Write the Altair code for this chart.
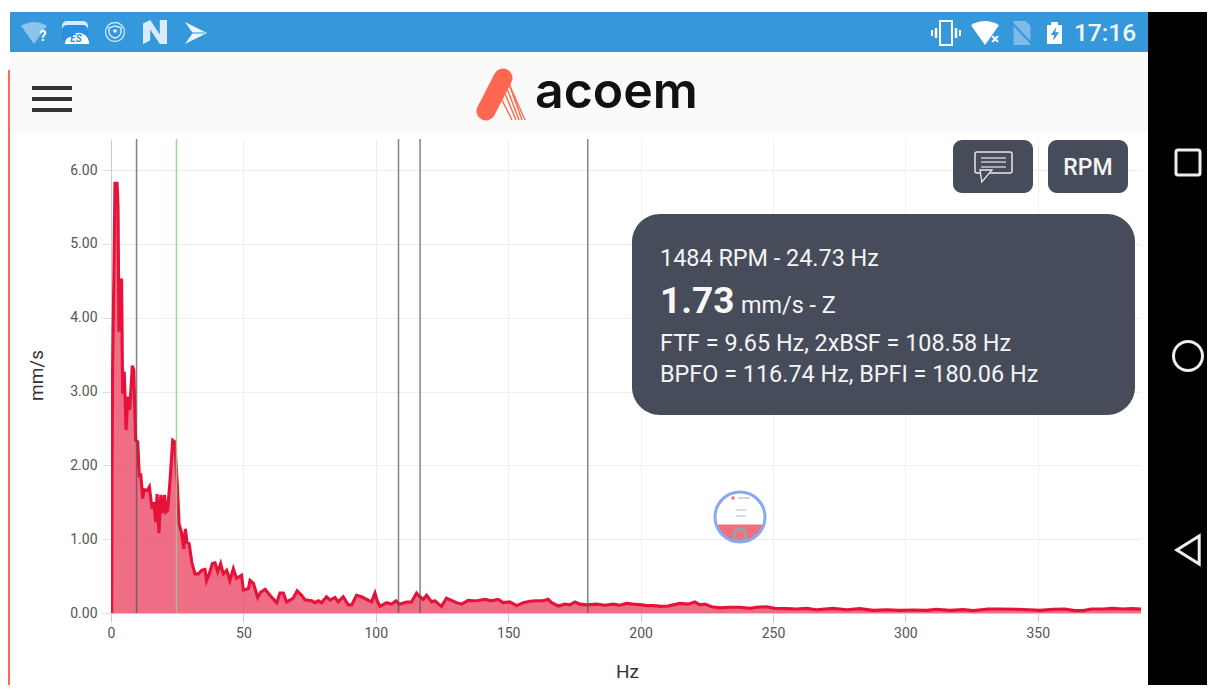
import altair as alt
import pandas as pd

# --- chart values ---
hz = [0.25,0.4,0.6,1.1,1.5,2.3,2.65,3.0,3.4,4.0,4.4,5.0,5.7,6.3,7.05,7.4,8.05,8.6,9.3,10.1,10.7,11.2,12.0,12.5,13.7,14.5,15.5,16.2,16.9,17.4,18.1,18.8,19.5,20.2,20.8,21.4,22.3,23.3,24.05,25.1,25.7,26.7,27.5,28.1,28.7,29.5,30.5,31.7,33.0,34.3,35.5,36.1,37.1,38.3,39.3,40.3,41.4,42.4,43.7,44.9,46.2,47.4,49.3,50.0,51.9,52.5,53.8,55.4,56.5,58.2,60.0,62.6,63.8,65.1,66.3,68.8,70.3,72.0,73.2,75.8,77.0,78.3,79.5,81.4,82.7,84.6,85.8,87.7,89.6,90.9,92.7,94.6,98.4,99.7,100.5,101.6,104.1,106.0,107.6,108.9,111.6,113.5,115.4,116.7,117.9,119.2,121.1,122.3,124.8,126.7,128.6,130.5,132.4,134.9,136.8,138.7,141.2,143.7,146.2,148.1,150.6,153.2,155.7,158.2,160.7,163.2,165.1,166.4,168.9,171.4,173.3,175.2,177.1,179.6,183.4,186.5,189.7,192.2,194.7,197.2,200.4,202.2,204.8,207.9,210.4,212.3,214.8,218.0,220.5,222.4,224.3,226.8,230.0,233.7,237.5,241.3,243.8,247.6,250.7,255.1,258.9,262.7,266.4,272.7,277.8,282.8,287.8,292.9,297.9,303.0,308.0,311.8,316.8,321.8,325.6,331.3,335.7,342.0,347.0,350.8,355.8,360.2,363.4,367.1,370.3,374.7,378.5,382.2,385.4,389.0]
mms = [0.0,1.9,3.3,4.6,5.82,5.82,5.5,3.81,4.51,4.51,2.97,3.27,2.48,2.93,2.75,2.95,3.35,3.29,2.34,2.32,1.84,1.89,1.55,1.67,1.66,1.71,1.41,1.5,1.23,1.61,1.08,1.6,1.35,1.6,1.37,1.39,1.8,2.34,2.32,1.71,1.21,1.08,0.87,1.14,0.96,0.94,0.69,0.53,0.53,0.58,0.59,0.44,0.53,0.67,0.68,0.56,0.67,0.53,0.58,0.44,0.6,0.47,0.51,0.31,0.33,0.44,0.4,0.21,0.28,0.32,0.24,0.14,0.27,0.27,0.15,0.20,0.30,0.24,0.18,0.165,0.14,0.165,0.14,0.22,0.175,0.21,0.15,0.22,0.11,0.11,0.24,0.22,0.15,0.27,0.17,0.09,0.14,0.12,0.165,0.12,0.15,0.15,0.27,0.22,0.185,0.24,0.15,0.165,0.09,0.2,0.17,0.14,0.12,0.17,0.165,0.17,0.185,0.165,0.185,0.14,0.15,0.10,0.14,0.16,0.165,0.165,0.185,0.14,0.095,0.12,0.11,0.15,0.12,0.11,0.12,0.105,0.12,0.105,0.13,0.12,0.11,0.10,0.10,0.09,0.095,0.11,0.13,0.12,0.15,0.11,0.12,0.085,0.07,0.077,0.077,0.063,0.077,0.085,0.063,0.059,0.054,0.063,0.045,0.063,0.045,0.059,0.036,0.045,0.036,0.041,0.036,0.05,0.036,0.045,0.032,0.054,0.054,0.05,0.045,0.036,0.05,0.054,0.036,0.032,0.054,0.054,0.063,0.054,0.059,0.054]
marker_hz = [9.65, 108.58, 116.74, 180.06]
running_hz = [24.73]
x_ticks = [0, 50, 100, 150, 200, 250, 300, 350]
y_ticks = [0, 1, 2, 3, 4, 5, 6]

FONT = "Roboto"
OX, OY = 111, 139
one = pd.DataFrame({"a": [0]})
spec = pd.DataFrame({"hz": hz, "mms": mms})

def R(x0, y0, x1, y1, fill, radius=0, **kw):
    return alt.Chart(one).mark_rect(color=fill, cornerRadius=radius, **kw).encode(
        x=alt.value(x0 - OX), x2=alt.value(x1 - OX), y=alt.value(y0 - OY), y2=alt.value(y1 - OY))

def L(x0, y0, x1, y1, color, width, cap="butt", op=1):
    return alt.Chart(one).mark_rule(color=color, strokeWidth=width, strokeCap=cap, opacity=op).encode(
        x=alt.value(x0 - OX), x2=alt.value(x1 - OX), y=alt.value(y0 - OY), y2=alt.value(y1 - OY))

def T(x, y, s, size, color="#f4f5f6", weight=400, align="left", font=FONT, **kw):
    return alt.Chart(one).mark_text(text=s, fontSize=size, color=color, fontWeight=weight, align=align,
                                    baseline="middle", font=font, **kw).encode(
        x=alt.value(x - OX), y=alt.value(y - OY))

def P(x, y, shape, r, fill=None, stroke=None, sw=0, op=1):
    kw = {}
    if fill:
        kw["fill"] = fill
    else:
        kw["fillOpacity"] = 0
    if stroke:
        kw["stroke"] = stroke
        kw["strokeWidth"] = sw
    else:
        kw["strokeWidth"] = 0
    return alt.Chart(one).mark_point(shape=shape, size=4 * r * r, opacity=op, **kw).encode(
        x=alt.value(x - OX), y=alt.value(y - OY))

WHITE = "#ffffff"
DARK = "#474c5b"
BLUE = "#3498db"
chrome_back = [
    R(10, 12, 1148, 52, BLUE),
    R(10, 52, 1148, 133, "#fafafa"),
    R(1148, 12, 1215, 693, "#000000"),
    R(8, 70, 10, 693, "#ff6850"),
]
# Status bar and header
chrome_top = [
    P(34, 33, "M-1,-.55 Q0,-1.15 1,-.55 L0,.85 Z", 13, fill="#8cc4ec"),
    T(43, 37, "?", 14, WHITE, 700, "center"),
    R(62, 21, 88, 44, "#d6ecfb", 5),
    R(62, 25, 88, 44, "#2a8fe0", 5),
    P(77, 38, "M-1,.5 Q-1,-.1 -.4,-.1 Q-.1,-.6 .5,-.35 Q1,-.1 1,.5 Z", 12, fill=WHITE),
    T(76, 39, "ES", 10, "#2a8fe0", 700, "center", fontStyle="italic"),
    P(115, 32, "circle", 9.5, stroke="#cfe6f7", sw=1.3),
    P(115, 32, "M-1,-.7 L0,-1 L1,-.7 L1,.1 Q.8,.8 0,1 Q-.8,.8 -1,.1 Z", 6, fill=BLUE, stroke="#eaf4fb", sw=1.3),
    P(115, 31, "circle", 1.8, fill="#eaf4fb"),
    P(155, 32, "M-1,-.7 L-.4,-1 L.4,.2 L.4,-1 L1,-1 L1,1 L.4,1 L-.4,-.2 L-.4,.7 L-1,1 Z", 12, fill="#d8ecfa"),
    P(196, 33, "M-1,-1 L1,0 L-1,1 L-.3,0 Z", 11, fill="#eef6fc"),
    L(187, 33, 205, 33, BLUE, 1),
    P(946, 33, "M-.5,-1 L.5,-1 L.5,1 L-.5,1 Z", 12, stroke=WHITE, sw=2),
    L(936, 28, 936, 38, WHITE, 2.5),
    L(932, 30, 932, 36, WHITE, 2),
    L(956, 28, 956, 38, WHITE, 2.5),
    L(960, 30, 960, 36, WHITE, 2),
    P(985, 33, "M-1,-.55 Q0,-1.15 1,-.55 L0,.85 Z", 14, fill=WHITE),
    T(995, 39, "×", 15, WHITE, 700, "center"),
    P(1022, 33, "M-.7,-1 L.3,-1 L.7,-.6 L.7,1 L-.7,1 Z", 12, fill="#7fbbe8"),
    L(1012, 23, 1032, 44, BLUE, 2),
    R(1047, 25, 1062, 44, WHITE, 1),
    R(1051, 22, 1058, 25, WHITE),
    P(1055, 34, "M.2,-1 L-.6,.15 L-.1,.15 L-.3,1 L.6,-.25 L.05,-.25 Z", 7, fill=BLUE),
    T(1105, 34, "17:16", 24.5, "#f2f8fc", 500, "center"),
    # hamburger
    L(32, 88, 72, 88, "#333333", 4),
    L(32, 99, 72, 99, "#333333", 4),
    L(32, 110, 72, 110, "#333333", 4),
    # logo
    L(486, 111, 503, 78, "#ff6850", 19, "round"),
    L(505, 75, 525, 120, "#ff6850", 1.4),
    L(508, 81, 522, 120, "#ff6850", 1.4),
    L(505, 83, 519, 120, "#ff6850", 1.4),
    L(503, 89, 516, 120, "#ff6850", 1.4),
    L(500, 96, 512, 120, "#ff6850", 1.4),
    T(535, 93, "acoem", 50, "#111111", 600, "left", "Inter"),
    # navigation bar
    R(1176, 150, 1200, 175, "#000000", 2, stroke="#eeeeee", strokeWidth=3),
    P(1188, 356, "circle", 14.5, stroke="#eeeeee", sw=3),
    P(1188, 550, "M.8,-1 L.8,1 L-.8,0 Z", 14, stroke="#eeeeee", sw=3),
]
# Overlays on the plot
overlay = [
    R(953, 140, 1033, 193, DARK, 9),
    R(975, 152, 1012, 173, DARK, 2, stroke="#e8e8e8", strokeWidth=1.5),
    L(981, 158, 1006, 158, "#e8e8e8", 1.2),
    L(981, 162, 1006, 162, "#e8e8e8", 1.2),
    L(981, 167, 1006, 167, "#e8e8e8", 1.2),
    P(986, 176, "M-1,-1 L1,-1 L-.7,1 Z", 6, fill=DARK, stroke="#e8e8e8", sw=1.3),
    R(1048, 140, 1128, 193, DARK, 9),
    T(1088, 168, "RPM", 23, "#f4f5f6", 500, "center"),
    R(632, 214, 1135, 415, DARK, 28),
    T(660, 259, "1484 RPM - 24.73 Hz", 23.4),
    T(660, 302, "1.73", 37, "#f8f8f8", 700),
    T(741, 306, "mm/s - Z", 23.4),
    T(660, 344, "FTF = 9.65 Hz, 2xBSF = 108.58 Hz", 23.4),
    T(660, 375, "BPFO = 116.74 Hz, BPFI = 180.06 Hz", 23.4),
    # floating thumbnail
    P(740, 517, "circle", 25, fill=WHITE),
    P(740, 517, "M-.954,.3 A1,1 0 0 0 .954,.3 Z", 25, fill="#f0707f"),
    P(740, 535, "circle", 6, stroke="#a0a0a0", sw=3),
    P(740, 517, "circle", 25, stroke="#86a9f5", sw=3),
    P(733, 498, "circle", 1.8, fill="#f0707f"),
    L(738, 498, 750, 498, "#aaaaaa", 1),
    L(736, 510, 746, 510, "#bbbbbb", 1),
    L(736, 516, 746, 516, "#bbbbbb", 1),
]

x = alt.X("hz:Q", scale=alt.Scale(domain=[0, 389], nice=False, zero=False),
          axis=alt.Axis(values=x_ticks, title="Hz", format="d", titleX=516, titleY=49, titleFontWeight=400,
                        titleFontSize=19, titleColor="#333333", titleFont=FONT, labelFont=FONT, labelFontSize=14,
                        labelColor="#555555", labelPadding=4, tickColor="#c8c8c8", domainColor="#cccccc",
                        gridColor="#eeeeee", tickSize=9, labelFlush=False))
y = alt.Y("mms:Q", scale=alt.Scale(domain=[0, 6.42], nice=False),
          axis=alt.Axis(values=y_ticks, title="mm/s", format=".2f", titleX=-65, titleY=236, titleFontWeight=400,
                        titleFontSize=19, titleColor="#333333", titleFont=FONT, labelFont=FONT, labelFontSize=14,
                        labelColor="#555555", labelPadding=5, tickColor="#dddddd", domainColor="#cccccc",
                        gridColor="#eeeeee", tickSize=9))

area = alt.Chart(spec).mark_area(color="#e5133a", opacity=0.62).encode(x=x, y=y)
line = alt.Chart(spec).mark_line(color="#e5133a", strokeWidth=3.1, strokeJoin="miter", clip=True).encode(x=x, y=y)
rules = alt.Chart(pd.DataFrame({"hz": marker_hz})).mark_rule(color="#555555", strokeWidth=1.5, opacity=0.72).encode(
    x=alt.X("hz:Q"))
green = alt.Chart(pd.DataFrame({"hz": running_hz})).mark_rule(color="#8fd08f", strokeWidth=1.5, opacity=0.85).encode(
    x=alt.X("hz:Q"))

chart = alt.layer(
    *chrome_back, area, line, rules, green, *overlay, *chrome_top
).properties(
    width=1030, height=474,
    padding={"left": 103, "top": 131, "right": 66, "bottom": 72},
    autosize=alt.AutoSizeParams(type="none"),
    background="#ffffff",
).configure_view(stroke=None)

chart.save("out.html", embed_options={"renderer": "svg", "actions": False})
